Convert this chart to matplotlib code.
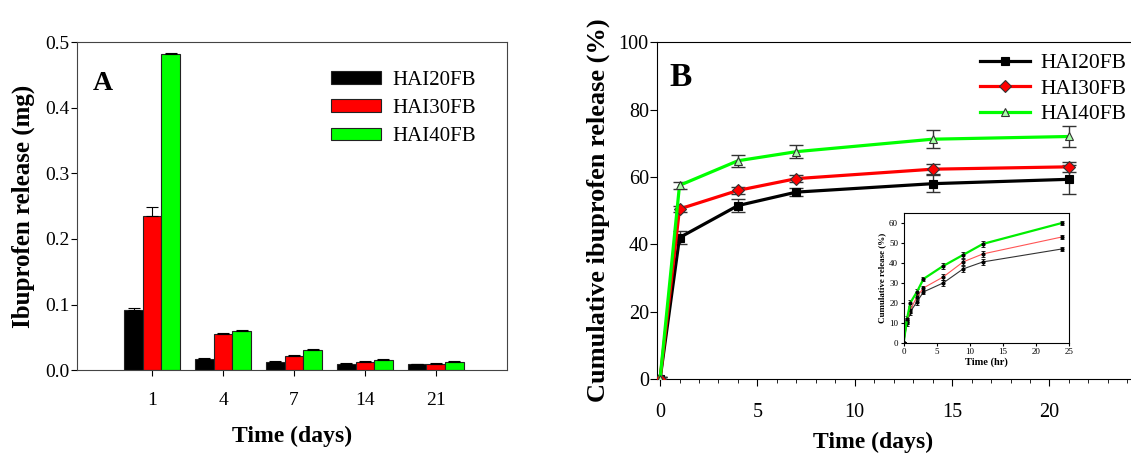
import matplotlib.pyplot as plt
import numpy as np

plt.rcParams['font.family'] = 'Liberation Serif'

# panel A data
days_cat = ['1', '4', '7', '14', '21']
names = ['HAI20FB', 'HAI30FB', 'HAI40FB']
colors = ['black', '#ff0000', '#00ff00']
rel_20 = [0.091, 0.017, 0.013, 0.010, 0.009]
rel_30 = [0.235, 0.055, 0.022, 0.013, 0.010]
rel_40 = [0.482, 0.060, 0.031, 0.016, 0.013]
err_20 = [0.004, 0.001, 0.0005, 0.0005, 0.0005]
err_30 = [0.013, 0.001, 0.0005, 0.0005, 0.0008]
err_40 = [0.002, 0.0005, 0.0005, 0.0005, 0.0005]

# panel B data
days = [0, 1, 4, 7, 14, 21]
cum_20 = [0, 42.0, 51.5, 55.5, 58.0, 59.3]
cum_30 = [0, 50.5, 56.0, 59.5, 62.3, 63.0]
cum_40 = [0, 57.5, 64.8, 67.5, 71.2, 72.0]
cerr_20 = [0.5, 2.0, 2.0, 1.2, 2.5, 4.3]
cerr_30 = [0.5, 1.0, 1.0, 1.0, 1.5, 1.5]
cerr_40 = [0.5, 1.0, 1.8, 2.0, 2.7, 3.2]

# inset data
hours = [0, 0.5, 1, 2, 3, 6, 9, 12, 24]
hr_20 = [0, 10.0, 15.5, 20.5, 25.5, 30.0, 37.0, 40.5, 47.0]
hr_30 = [0, 11.0, 16.5, 23.0, 27.5, 33.0, 40.5, 44.5, 53.0]
hr_40 = [0, 12.0, 20.0, 25.5, 32.0, 38.5, 44.0, 49.5, 60.0]
hr_err = [0.5, 1.5, 1.5, 1.5, 1.2, 1.3, 1.5, 1.5, 1.2]

fig = plt.figure(figsize=(11.31, 4.53), dpi=100)

# ---- A ----
ax = fig.add_axes([0.068, 0.183, 0.380, 0.724])
pos = np.arange(1, 6)
w = 0.262
for i, (vals, errs) in enumerate(zip([rel_20, rel_30, rel_40], [err_20, err_30, err_40])):
    ax.bar(pos + (i - 1) * w, vals, w, color=colors[i], edgecolor='#222222',
           linewidth=0.8, label=names[i],
           yerr=[np.zeros(5), errs], capsize=4,
           error_kw=dict(ecolor='black', elinewidth=0.8, capthick=0.8))
ax.set_xlim(-0.06, 6.0)
ax.set_ylim(0, 0.5)
ax.set_xticks(pos)
ax.set_xticklabels(days_cat)
ax.set_yticks([0.0, 0.1, 0.2, 0.3, 0.4, 0.5])
ax.set_yticklabels(['0.0', '0.1', '0.2', '0.3', '0.4', '0.5'])
ax.tick_params(direction='out', length=4, labelsize=14, pad=1.5)
ax.tick_params(axis='x', pad=12)
ax.set_xlabel('Time (days)', fontsize=17, fontweight='bold', labelpad=12)
ax.set_ylabel('Ibuprofen release (mg)', fontsize=18, fontweight='bold', labelpad=7)
ax.text(0.037, 0.855, 'A', transform=ax.transAxes, fontsize=20, fontweight='bold')
ax.legend(loc='upper right', bbox_to_anchor=(0.972, 0.97), frameon=False,
          fontsize=15, handlelength=2.4, handleheight=0.55, labelspacing=0.45,
          handletextpad=0.55)
for s in ax.spines.values():
    s.set_color('#444444')

# ---- B ----
bx = fig.add_axes([0.581, 0.163, 0.433, 0.744])
specs = [(cum_20, cerr_20, 's', 'black', 'black'),
         (cum_30, cerr_30, 'D', '#ff0000', '#ff0000'),
         (cum_40, cerr_40, '^', '#00ff00', '#aaffaa')]
for i, (vals, errs, mk, col, fc) in enumerate(specs):
    bx.errorbar(days, vals, yerr=errs, fmt='none', ecolor='#333333',
                elinewidth=1.0, capsize=5, capthick=1.0, zorder=2)
    bx.plot(days, vals, color=col, linewidth=2.3, marker=mk, markersize=6,
            markerfacecolor=fc, markeredgecolor='#333333' if i > 0 else 'black',
            markeredgewidth=0.8, label=names[i], zorder=3)
bx.set_xlim(-0.15, 25)
bx.set_ylim(0, 100)
bx.set_xticks([0, 5, 10, 15, 20])
bx.set_xticks(np.arange(0, 25, 1), minor=True)
bx.set_yticks([0, 20, 40, 60, 80, 100])
bx.tick_params(direction='out', length=5, labelsize=14.5, pad=1)
bx.tick_params(axis='x', pad=12)
bx.tick_params(which='minor', direction='out', length=3)
bx.set_xlabel('Time (days)', fontsize=17, fontweight='bold')
bx.xaxis.set_label_coords(0.44, -0.155)
bx.set_ylabel('Cumulative ibuprofen release (%)', fontsize=19, fontweight='bold', labelpad=6)
bx.text(0.025, 0.87, 'B', transform=bx.transAxes, fontsize=24, fontweight='bold')
bx.legend(loc='upper left', bbox_to_anchor=(0.62, 1.025), frameon=False,
          fontsize=15.5, handlelength=2.3, labelspacing=0.25, handletextpad=0.5)

# ---- inset ----
ix = fig.add_axes([0.799, 0.243, 0.146, 0.287])
for vals, col, lw in [(hr_20, '#333333', 0.8), (hr_30, '#ff5555', 0.8), (hr_40, '#00ee00', 1.6)]:
    ix.errorbar(hours, vals, yerr=hr_err, color=col, linewidth=lw, ecolor='black',
                elinewidth=0.6, capsize=1.5, capthick=0.6, marker='o',
                markersize=2, markerfacecolor='black', markeredgecolor='black')
ix.set_xlim(0, 25)
ix.set_ylim(0, 65)
ix.set_xticks([0, 5, 10, 15, 20, 25])
ix.set_yticks([0, 10, 20, 30, 40, 50, 60])
ix.tick_params(direction='out', length=2, labelsize=6.5, pad=2)
ix.set_xlabel('Time (hr)', fontsize=7.5, fontweight='bold', labelpad=1)
ix.set_ylabel('Cumulative release (%)', fontsize=6.5, fontweight='bold', labelpad=2)

fig.savefig('out.png', dpi=100)
